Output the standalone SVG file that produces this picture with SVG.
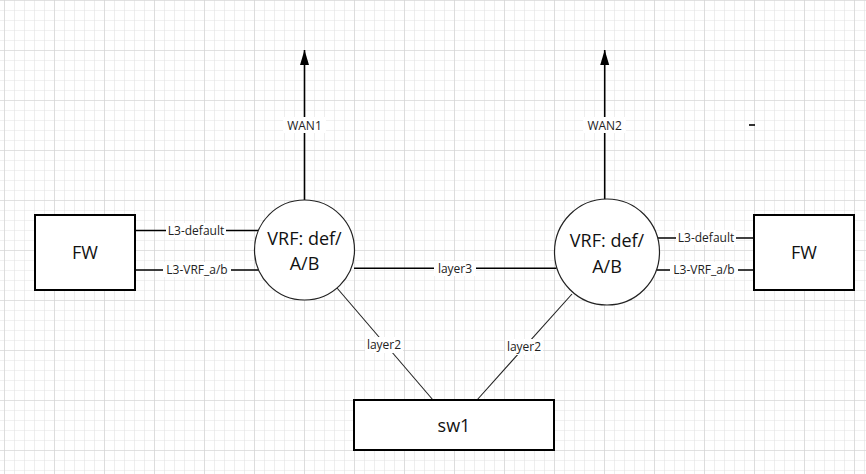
<svg xmlns="http://www.w3.org/2000/svg" width="866" height="474" viewBox="0 0 866 474">
<defs>
<pattern id="minor" x="4" y="0" width="10" height="10" patternUnits="userSpaceOnUse">
<path d="M0 0V10M0 0H10" fill="none" stroke="#e3e3e3" stroke-width="1.2"/>
</pattern>
<pattern id="major" x="4" y="0" width="50" height="50" patternUnits="userSpaceOnUse">
<path d="M0 0V50M0 0H50" fill="none" stroke="#d2d2d2" stroke-width="1.2"/>
</pattern>
<marker id="arrow" viewBox="0 0 15 10" refX="15" refY="5" markerWidth="15" markerHeight="10" markerUnits="userSpaceOnUse" orient="auto">
<path d="M0 0.5L15 5L0 9.5Z" fill="#000"/>
</marker>
</defs>
<style>
.box{fill:#fff;stroke:#000;stroke-width:2}
.vrf{fill:#fff;stroke:#222;stroke-width:1.2}
.big{font-family:"Open Sans","Liberation Sans",sans-serif;font-size:18px;fill:#111;text-anchor:middle;dominant-baseline:central}
.lbl{font-family:"Open Sans","Liberation Sans",sans-serif;font-size:12px;fill:#222;text-anchor:middle;dominant-baseline:central}
.lblbg{fill:#fff}
.wire{stroke:#000;stroke-width:1.6;fill:none}
.thin{stroke:#222;stroke-width:1.1;fill:none}
</style>
<rect width="866" height="474" fill="#fff"/>
<rect width="866" height="474" fill="url(#minor)"/>
<rect width="866" height="474" fill="url(#major)"/>

<g id="connectors">
<line class="wire" x1="304.5" y1="200" x2="304.5" y2="50" marker-end="url(#arrow)"/>
<line class="wire" x1="604.7" y1="199" x2="604.7" y2="50" marker-end="url(#arrow)"/>
<line class="wire" x1="135" y1="230.5" x2="258.5" y2="230.5"/>
<line class="wire" x1="135" y1="270" x2="258.5" y2="270"/>
<line class="wire" x1="658" y1="238" x2="756" y2="238"/>
<line class="wire" x1="657" y1="270" x2="754" y2="270"/>
<line class="wire" x1="354" y1="268.3" x2="556.5" y2="268.3"/>
<line class="thin" x1="337" y1="288" x2="433" y2="400"/>
<line class="thin" x1="572" y1="294" x2="477" y2="400"/>
<line class="wire" x1="749" y1="125" x2="755" y2="125" stroke-width="2"/>

<rect class="lblbg" x="283" y="117" width="43" height="16"/>
<text class="lbl" x="304.5" y="125">WAN1</text>
<rect class="lblbg" x="583" y="117" width="43" height="16"/>
<text class="lbl" x="604.7" y="125">WAN2</text>
<rect class="lblbg" x="166" y="223" width="60" height="15"/>
<text class="lbl" x="196" y="230">L3-default</text>
<rect class="lblbg" x="163" y="262" width="68" height="15"/>
<text class="lbl" x="197" y="269.5">L3-VRF_a/b</text>
<rect class="lblbg" x="676" y="230" width="60" height="15"/>
<text class="lbl" x="706" y="237.5">L3-default</text>
<rect class="lblbg" x="670" y="262" width="68" height="15"/>
<text class="lbl" x="704" y="269.5">L3-VRF_a/b</text>
<rect class="lblbg" x="434" y="261" width="42" height="15"/>
<text class="lbl" x="455" y="268">layer3</text>
<rect class="lblbg" x="365" y="337" width="38" height="16"/>
<text class="lbl" x="384" y="344.5">layer2</text>
<rect class="lblbg" x="505" y="339" width="38" height="16"/>
<text class="lbl" x="524" y="346.5">layer2</text>
</g>

<g id="fw-left">
<rect class="box" x="35" y="215" width="100" height="75"/>
<text class="big" x="85" y="252">FW</text>
</g>
<g id="fw-right">
<rect class="box" x="754" y="215" width="100" height="75"/>
<text class="big" x="804" y="252">FW</text>
</g>
<g id="vrf-left">
<circle class="vrf" cx="304.5" cy="250" r="50"/>
<text class="big" x="304.5" y="238">VRF: def/</text>
<text class="big" x="304.5" y="263">A/B</text>
</g>
<g id="vrf-right">
<ellipse class="vrf" cx="607" cy="252" rx="52.5" ry="53"/>
<text class="big" x="607" y="240">VRF: def/</text>
<text class="big" x="607" y="266">A/B</text>
</g>
<g id="sw1">
<rect class="box" x="354" y="400" width="200" height="50"/>
<text class="big" x="454" y="425">sw1</text>
</g>
</svg>
